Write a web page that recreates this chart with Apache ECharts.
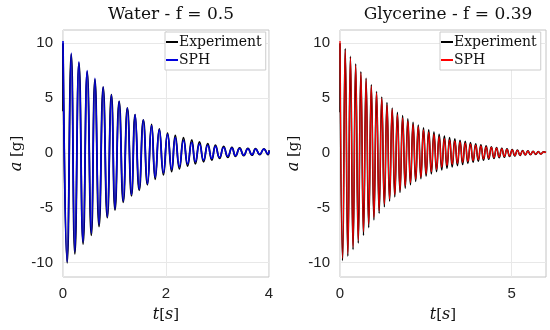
<!DOCTYPE html>
<html>
<head>
<meta charset="utf-8">
<script src="https://cdn.jsdelivr.net/npm/echarts@6/dist/echarts.min.js"></script>
<style>html,body{margin:0;padding:0;background:#fff}#c{width:550px;height:330px}</style>
</head>
<body>
<div id="c"></div>
<script>
// ---- Water panel (extremes: alternating peak / trough) ----
var waterT = [0,0.08,0.16,0.23,0.31,0.39,0.47,0.55,0.62,0.70,0.78,0.86,0.94,1.01,1.09,1.17,1.25,1.33,1.40,1.48,1.56,1.64,1.72,1.79,1.87,1.95,2.03,2.11,2.18,2.26,2.34,2.42,2.50,2.57,2.65,2.73,2.81,2.89,2.96,3.04,3.12,3.20,3.28,3.35,3.43,3.51,3.59,3.67,3.74,3.82,3.90,3.98,4.0];
var waterSphPeaks   = [10.2,9.1,8.3,7.5,6.8,6.0,5.3,4.7,4.1,3.5,3.0,2.5,2.1,1.7,1.4,1.15,0.95,0.8,0.7,0.6,0.5,0.45,0.4,0.38,0.35,0.35];
var waterSphTroughs = [-9.9,-9.0,-8.1,-7.3,-6.5,-5.8,-5.1,-4.4,-3.8,-3.3,-2.8,-2.2,-1.8,-1.5,-1.25,-1.0,-0.8,-0.65,-0.5,-0.4,-0.3,-0.25,-0.2,-0.15,-0.12,-0.1];
var waterExpPeaks   = [10.0,9.0,8.2,7.4,6.7,6.0,5.3,4.7,4.1,3.5,3.0,2.6,2.2,1.8,1.6,1.4,1.2,1.0,0.85,0.7,0.6,0.5,0.45,0.42,0.4,0.38];
var waterExpTroughs = [-10.0,-9.2,-8.3,-7.5,-6.7,-5.9,-5.2,-4.5,-3.9,-3.4,-2.9,-2.4,-2.0,-1.7,-1.45,-1.2,-1.0,-0.8,-0.65,-0.5,-0.4,-0.3,-0.25,-0.2,-0.15,-0.15];
var waterSphEnd = 0.2, waterExpEnd = 0.25, waterExpStart = 3.8;

// ---- Glycerine panel ----
var glyT = [0,0.076,0.152,0.228,0.304,0.380,0.456,0.532,0.608,0.684,0.760,0.836,0.912,0.988,1.064,1.140,1.216,1.292,1.368,1.444,1.520,1.596,1.672,1.748,1.824,1.900,1.976,2.052,2.128,2.204,2.280,2.356,2.432,2.508,2.584,2.660,2.736,2.812,2.888,2.964,3.040,3.116,3.192,3.268,3.344,3.420,3.496,3.572,3.648,3.724,3.800,3.876,3.952,4.028,4.104,4.180,4.256,4.332,4.408,4.484,4.560,4.636,4.712,4.788,4.864,4.940,5.016,5.092,5.168,5.244,5.320,5.396,5.472,5.548,5.624,5.700,5.776,5.852,5.928,6.0];
var glySphPeaks   = [10.2,9.4,8.7,8.0,7.3,6.7,6.1,5.5,5.0,4.4,4.0,3.5,3.2,2.9,2.6,2.4,2.1,1.9,1.7,1.5,1.3,1.2,1.1,1.0,0.9,0.8,0.72,0.64,0.56,0.5,0.44,0.38,0.33,0.28,0.24,0.2,0.17,0.14,0.12,0.1];
var glySphTroughs = [-9.6,-9.2,-8.6,-8.0,-7.2,-6.5,-5.9,-5.3,-4.7,-4.2,-3.8,-3.4,-3.0,-2.7,-2.4,-2.2,-1.9,-1.7,-1.5,-1.3,-1.15,-1.05,-0.95,-0.85,-0.78,-0.7,-0.62,-0.55,-0.48,-0.42,-0.37,-0.32,-0.28,-0.24,-0.2,-0.17,-0.14,-0.12,-0.1];
var glyExpPeaks   = [10.0,9.5,8.8,8.1,7.4,6.8,6.2,5.6,5.1,4.6,4.1,3.7,3.4,3.1,2.8,2.55,2.3,2.1,1.9,1.7,1.55,1.4,1.28,1.16,1.05,0.94,0.84,0.74,0.65,0.57,0.5,0.43,0.37,0.32,0.27,0.23,0.19,0.16,0.13,0.11];
var glyExpTroughs = [-9.8,-9.4,-8.8,-8.2,-7.5,-6.8,-6.1,-5.5,-4.9,-4.4,-4.0,-3.6,-3.2,-2.9,-2.6,-2.35,-2.1,-1.9,-1.7,-1.55,-1.4,-1.28,-1.16,-1.05,-0.95,-0.85,-0.75,-0.66,-0.58,-0.5,-0.44,-0.38,-0.32,-0.27,-0.23,-0.19,-0.16,-0.13,-0.1];
var glySphEnd = 0.05, glyExpEnd = 0.05, glyExpStart = 3.7;

var yTicks = [-10,-5,0,5,10];
var waterXTicks = [0,2,4];
var glyXTicks = [0,5];

function build(t, peaks, troughs, endVal, startVal) {
  var out = [];
  if (startVal !== undefined) out.push([t[0], startVal]);
  for (var k = 0; k < t.length - 1; k++) {
    var v = (k % 2 === 0) ? peaks[k / 2] : troughs[(k - 1) / 2];
    out.push([t[k], v]);
  }
  out.push([t[t.length - 1], endVal]);
  return out;
}

var serif = '"DejaVu Serif", "Liberation Serif", serif';
var sans = '"Liberation Sans", Arial, sans-serif';

function yAxis(idx) {
  return {
    type: 'value', gridIndex: idx, min: -11.3, max: 11.2,
    name: '{i|a} [g]', nameLocation: 'middle', nameGap: 38, nameRotate: 90,
    nameTextStyle: { fontFamily: serif, fontSize: 15, color: '#111',
      rich: { i: { fontFamily: serif, fontStyle: 'italic', fontSize: 16, color: '#111' } } },
    axisLine: { show: false },
    axisTick: { show: false, customValues: yTicks },
    axisLabel: { customValues: yTicks, fontFamily: sans, fontSize: 15, color: '#222', margin: 10 },
    splitLine: { show: true, lineStyle: { color: '#e8e8e8', width: 1 } }
  };
}
function xAxis(idx, max, ticks) {
  return {
    type: 'value', gridIndex: idx, min: 0, max: max,
    name: '{i|t}[{i|s}]', nameLocation: 'middle', nameGap: 30,
    nameTextStyle: { fontFamily: serif, fontSize: 15, color: '#111',
      rich: { i: { fontFamily: serif, fontStyle: 'italic', fontSize: 16, color: '#111' } } },
    axisLine: { show: false },
    axisTick: { show: false, customValues: ticks },
    axisLabel: { customValues: ticks, fontFamily: sans, fontSize: 15, color: '#222', margin: 9 },
    splitLine: { show: true, lineStyle: { color: '#e8e8e8', width: 1 } }
  };
}

var legendBase = {
  top: 32, orient: 'vertical', itemWidth: 12, itemHeight: 2, itemGap: 2,
  icon: 'rect', backgroundColor: '#fff', borderColor: '#cccccc', borderWidth: 1, padding: [2, 4, 2, 1],
  textStyle: { fontFamily: serif, fontSize: 14, lineHeight: 16, color: '#111', padding: [0, 0, 0, -4] }
};

var chart = echarts.init(document.getElementById('c'), null, { renderer: 'canvas' });
chart.setOption({
  animation: false,
  backgroundColor: '#fff',
  title: [
    { text: 'Water - f = 0.5', left: 166, top: 1, textAlign: 'center',
      textStyle: { fontFamily: serif, fontWeight: 'normal', fontSize: 17, color: '#111' } },
    { text: 'Glycerine - f = 0.39', left: 443, top: 1, textAlign: 'center',
      textStyle: { fontFamily: serif, fontWeight: 'normal', fontSize: 17, color: '#111' } }
  ],
  grid: [
    { left: 63, right: 281, top: 30, bottom: 53, show: true, borderColor: '#c4c4c4', borderWidth: 1, backgroundColor: 'transparent' },
    { left: 340, right: 4, top: 30, bottom: 53, show: true, borderColor: '#c4c4c4', borderWidth: 1, backgroundColor: 'transparent' }
  ],
  xAxis: [xAxis(0, 4, waterXTicks), xAxis(1, 6, glyXTicks)],
  yAxis: [yAxis(0), yAxis(1)],
  legend: [
    Object.assign({}, legendBase, { data: ['Experiment', 'SPH'], left: 165 }),
    Object.assign({}, legendBase, { data: ['Experiment (G)', 'SPH (G)'], left: 440,
      formatter: function (n) { return n.split(' (')[0]; } })
  ],
  series: [
    { name: 'Experiment', type: 'line', xAxisIndex: 0, yAxisIndex: 0, symbol: 'none', smooth: 0.5,
      data: build(waterT, waterExpPeaks, waterExpTroughs, waterExpEnd, waterExpStart),
      lineStyle: { color: '#000', width: 1.8 }, itemStyle: { color: '#000' } },
    { name: 'SPH', type: 'line', xAxisIndex: 0, yAxisIndex: 0, symbol: 'none', smooth: 0.5,
      data: build(waterT, waterSphPeaks, waterSphTroughs, waterSphEnd),
      lineStyle: { color: '#0000dd', width: 1.6 }, itemStyle: { color: '#0000dd' } },
    { name: 'Experiment (G)', type: 'line', xAxisIndex: 1, yAxisIndex: 1, symbol: 'none', smooth: 0.5,
      data: build(glyT, glyExpPeaks, glyExpTroughs, glyExpEnd, glyExpStart),
      lineStyle: { color: '#000', width: 1.6 }, itemStyle: { color: '#000' } },
    { name: 'SPH (G)', type: 'line', xAxisIndex: 1, yAxisIndex: 1, symbol: 'none', smooth: 0.5,
      data: build(glyT, glySphPeaks, glySphTroughs, glySphEnd),
      lineStyle: { color: '#ff0000', width: 1.2 }, itemStyle: { color: '#ff0000' } }
  ]
});
</script>
</body>
</html>
